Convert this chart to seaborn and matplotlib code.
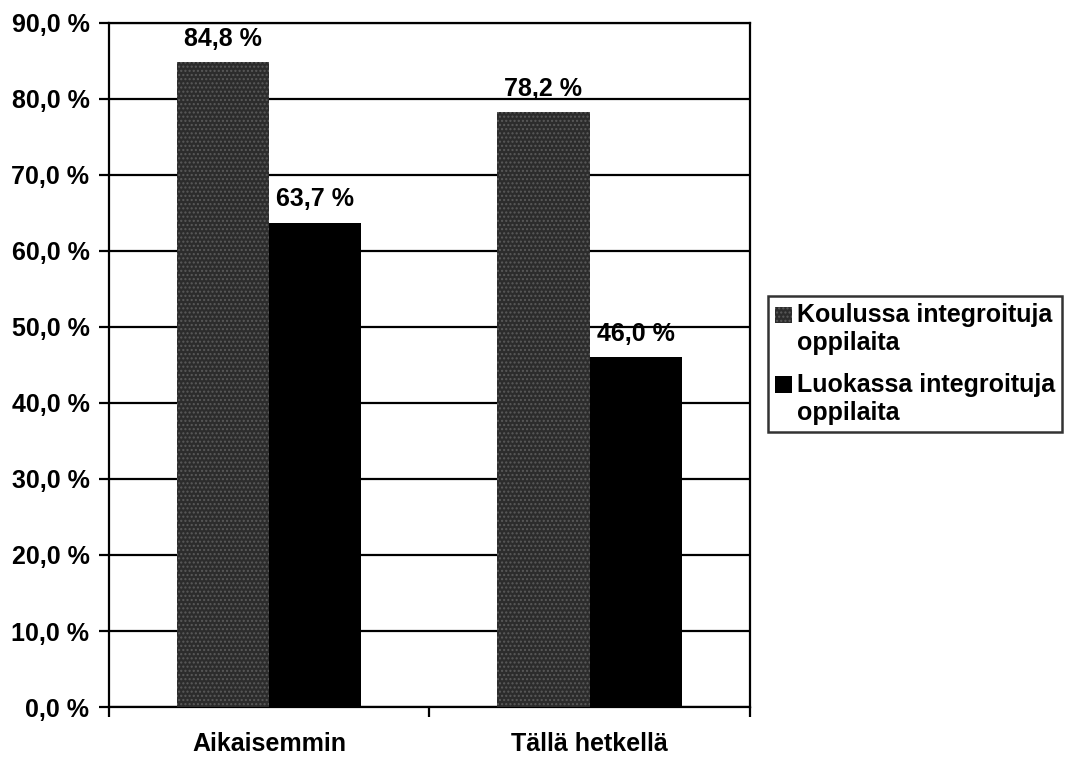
import matplotlib
matplotlib.use("Agg")
import matplotlib.pyplot as plt
from matplotlib.patches import Rectangle
from matplotlib.legend_handler import HandlerPatch
import seaborn as sns
import pandas as pd

# Data
categories = ["Aikaisemmin", "Tällä hetkellä"]
series_names = ["Koulussa integroituja\noppilaita", "Luokassa integroituja\noppilaita"]
koulussa = [84.8, 78.2]
luokassa = [63.7, 46.0]
y_ticks = [0, 10, 20, 30, 40, 50, 60, 70, 80, 90]

df = pd.DataFrame({
    "ryhma": categories * 2,
    "sarja": [series_names[0]] * 2 + [series_names[1]] * 2,
    "osuus": koulussa + luokassa,
})

sns.set_style("white")
plt.rcParams["font.family"] = ["Liberation Sans", "DejaVu Sans"]
plt.rcParams["font.weight"] = "bold"
plt.rcParams["text.color"] = "black"
plt.rcParams["xtick.color"] = "black"
plt.rcParams["ytick.color"] = "black"

FS = 18

fig = plt.figure(figsize=(10.68, 7.57), dpi=100)
ax = fig.add_axes([0.102, 0.066, 0.600, 0.904])

palette = {series_names[0]: "#2c2c2c", series_names[1]: "#000000"}
sns.barplot(data=df, x="ryhma", y="osuus", hue="sarja", order=categories,
            hue_order=series_names, palette=palette, width=0.575,
            saturation=1, linewidth=0, ax=ax, zorder=3)

# speckled texture on the first series
for bar in ax.containers[0]:
    bar.set_hatch("....")
    bar.set_edgecolor("#5a5a5a")
    bar.set_linewidth(0)

# value labels above bars
for cont in ax.containers:
    for bar in cont:
        h = bar.get_height()
        ax.annotate(f"{h:.1f} %".replace(".", ","),
                    (bar.get_x() + bar.get_width() / 2, h),
                    xytext=(0, 12), textcoords="offset points",
                    ha="center", va="baseline", fontsize=FS, fontweight="bold",
                    zorder=5)

ax.set_ylim(0, 90)
ax.set_xlim(-0.5, 1.5)
ax.set_yticks(y_ticks)
ax.set_yticklabels([f"{v:.1f} %".replace(".", ",") for v in y_ticks],
                   fontsize=FS, fontweight="bold")
ax.yaxis.grid(True, color="black", linewidth=1.6, zorder=1)
ax.set_axisbelow(True)
ax.tick_params(axis="y", which="major", direction="out", length=7, width=1.6,
               pad=7, left=True)

# category labels centred, ticks at category boundaries
ax.set_xticks([0, 1])
ax.set_xticklabels(categories, fontsize=FS, fontweight="bold")
ax.set_xticks([-0.5, 0.5, 1.5], minor=True)
ax.tick_params(axis="x", which="major", length=0, pad=18)
ax.tick_params(axis="x", which="minor", direction="out", length=7, width=1.6,
               bottom=True)
ax.set_xlabel("")
ax.set_ylabel("")

for s in ax.spines.values():
    s.set_visible(True)
    s.set_color("black")
    s.set_linewidth(1.6)


# legend keys aligned with the first line of each two-line label
def top_square(legend, orig_handle, xdescent, ydescent, width, height, fontsize):
    return Rectangle((-xdescent, -ydescent + 0.6 * fontsize), width, height)


handles, labels = ax.get_legend_handles_labels()
ax.get_legend().remove()
for hd in handles:
    hd.set_linewidth(0)
handles[0].set_hatch("....")
handles[0].set_edgecolor("#5a5a5a")
leg = fig.legend(handles, labels, loc="upper left", bbox_to_anchor=(0.719, 0.609),
                 frameon=True, fancybox=False, edgecolor="black",
                 prop={"size": FS, "weight": "bold"},
                 handler_map={Rectangle: HandlerPatch(patch_func=top_square)},
                 handlelength=0.65, handleheight=0.65, handletextpad=0.2,
                 borderpad=0.3, labelspacing=0.7, borderaxespad=0)
leg.get_frame().set_linewidth(1.8)

fig.savefig("out.png", dpi=100)
